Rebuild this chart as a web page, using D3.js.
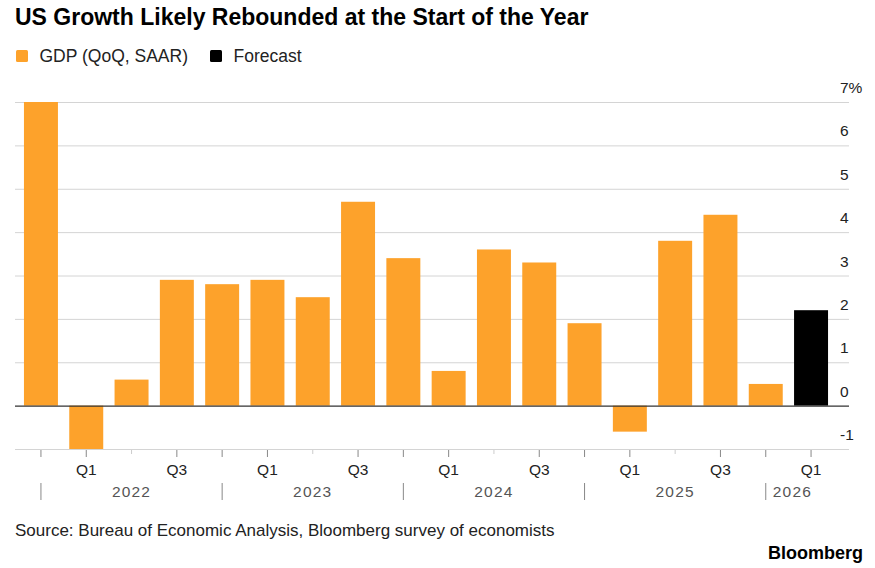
<!DOCTYPE html>
<html>
<head>
<meta charset="utf-8">
<script src="https://cdn.jsdelivr.net/npm/d3@7"></script>
<style>
  body { margin: 0; background: #fff; }
  text { font-family: "Liberation Sans", Arial, sans-serif; }
</style>
</head>
<body>
<svg id="chart"></svg>
<script>
// quarters Q4 2021 .. Q1 2026
var quarters = ['Q4','Q1','Q2','Q3','Q4','Q1','Q2','Q3','Q4','Q1','Q2','Q3','Q4','Q1','Q2','Q3','Q4','Q1'];
var years = [2021,2022,2022,2022,2022,2023,2023,2023,2023,2024,2024,2024,2024,2025,2025,2025,2025,2026];
var gdp = [7.0,-1.0,0.6,2.9,2.8,2.9,2.5,4.7,3.4,0.8,3.6,3.3,1.9,-0.6,3.8,4.4,0.5,2.2];
var isForecast = [0,0,0,0,0,0,0,0,0,0,0,0,0,0,0,0,0,1];
var yTicks = [-1,0,1,2,3,4,5,6,7];
var yearLabels = ['2022','2023','2024','2025','2026'];

var width = 875, height = 568;
var left = 15, right = 849;
var orange = '#fda22b';

var svg = d3.select('#chart').attr('width', width).attr('height', height);

var ids = quarters.map(function(q, i){ return years[i] + q; });
var x = d3.scaleBand().domain(ids).range([18.3, 833.7]).paddingInner(0.25).paddingOuter(0.125);
var y = d3.scaleLinear().domain([-1, 7]).range([449, 102]);

// title
svg.append('text').attr('x', 15).attr('y', 25)
  .style('font-size', '23px').style('font-weight', 'bold').attr('fill', '#000')
  .text('US Growth Likely Rebounded at the Start of the Year');

// legend
var legend = [['GDP (QoQ, SAAR)', orange, 16], ['Forecast', '#000', 210]];
legend.forEach(function(l){
  svg.append('rect').attr('x', l[2]).attr('y', 50).attr('width', 12).attr('height', 12).attr('rx', 1.5).attr('fill', l[1]);
  svg.append('text').attr('x', l[2] + 23.5).attr('y', 62).style('font-size', '17.5px').attr('fill', '#222').text(l[0]);
});

// gridlines
svg.append('g').selectAll('line').data(yTicks).enter().append('line')
  .attr('x1', left).attr('x2', right)
  .attr('y1', function(d){ return y(d) + 0.5; }).attr('y2', function(d){ return y(d) + 0.5; })
  .attr('stroke', function(d){ return d === 0 ? 'none' : '#d4d4d4'; })
  .attr('stroke-width', 1);

// y labels
svg.append('g').selectAll('text').data(yTicks).enter().append('text')
  .attr('x', 840).attr('y', function(d){ return y(d) - 9; })
  .style('font-size', '15.5px').attr('fill', '#222')
  .text(function(d){ return d === 7 ? '7%' : d; });

// bars
svg.append('g').selectAll('rect').data(gdp).enter().append('rect')
  .attr('x', function(d, i){ return x(ids[i]); })
  .attr('width', x.bandwidth())
  .attr('y', function(d){ return y(Math.max(0, d)); })
  .attr('height', function(d){ return Math.abs(y(d) - y(0)); })
  .attr('fill', function(d, i){ return isForecast[i] ? '#000' : orange; });

// zero line
svg.append('line').attr('x1', left).attr('x2', right)
  .attr('y1', y(0) + 0.5).attr('y2', y(0) + 0.5)
  .attr('stroke', '#333').attr('stroke-width', 1.3);

// x ticks
var cx = function(i){ return x(ids[i]) + x.bandwidth() / 2; };
svg.append('g').selectAll('line').data(ids).enter().append('line')
  .attr('x1', function(d, i){ return cx(i); }).attr('x2', function(d, i){ return cx(i); })
  .attr('y1', 450)
  .attr('y2', function(d, i){ return quarters[i] === 'Q2' ? 454 : 457; })
  .attr('stroke', function(d, i){ return quarters[i] === 'Q2' ? '#ccc' : '#888'; })
  .attr('stroke-width', 1);

// quarter labels
svg.append('g').selectAll('text').data(ids.filter(function(d, i){ return quarters[i] === 'Q1' || quarters[i] === 'Q3'; }))
  .enter().append('text')
  .attr('x', function(d){ return x(d) + x.bandwidth() / 2; })
  .attr('y', 475).attr('text-anchor', 'middle')
  .style('font-size', '15.5px').attr('fill', '#222')
  .text(function(d){ return d.slice(4); });

// year separators at Q4 and year labels
var q4 = ids.filter(function(d, i){ return quarters[i] === 'Q4'; });
svg.append('g').selectAll('line').data(q4).enter().append('line')
  .attr('x1', function(d){ return x(d) + x.bandwidth() / 2; })
  .attr('x2', function(d){ return x(d) + x.bandwidth() / 2; })
  .attr('y1', 483).attr('y2', 500)
  .attr('stroke', '#888').attr('stroke-width', 1);

svg.append('g').selectAll('text').data(yearLabels).enter().append('text')
  .attr('x', function(d, i){
    var a = x(q4[i]) + x.bandwidth() / 2;
    if (i === yearLabels.length - 1) return a + 7;
    var b = x(q4[i + 1]) + x.bandwidth() / 2;
    return (a + b) / 2;
  })
  .attr('y', 497)
  .attr('text-anchor', function(d, i){ return i === yearLabels.length - 1 ? 'start' : 'middle'; })
  .style('font-size', '15.5px').style('letter-spacing', '1.2px').attr('fill', '#555')
  .text(function(d){ return d; });

// source and brand
svg.append('text').attr('x', 15).attr('y', 536)
  .style('font-size', '17px').attr('fill', '#222')
  .text('Source: Bureau of Economic Analysis, Bloomberg survey of economists');
svg.append('text').attr('x', 863).attr('y', 559).attr('text-anchor', 'end')
  .style('font-size', '18px').style('font-weight', 'bold').attr('fill', '#000')
  .text('Bloomberg');
</script>
</body>
</html>
